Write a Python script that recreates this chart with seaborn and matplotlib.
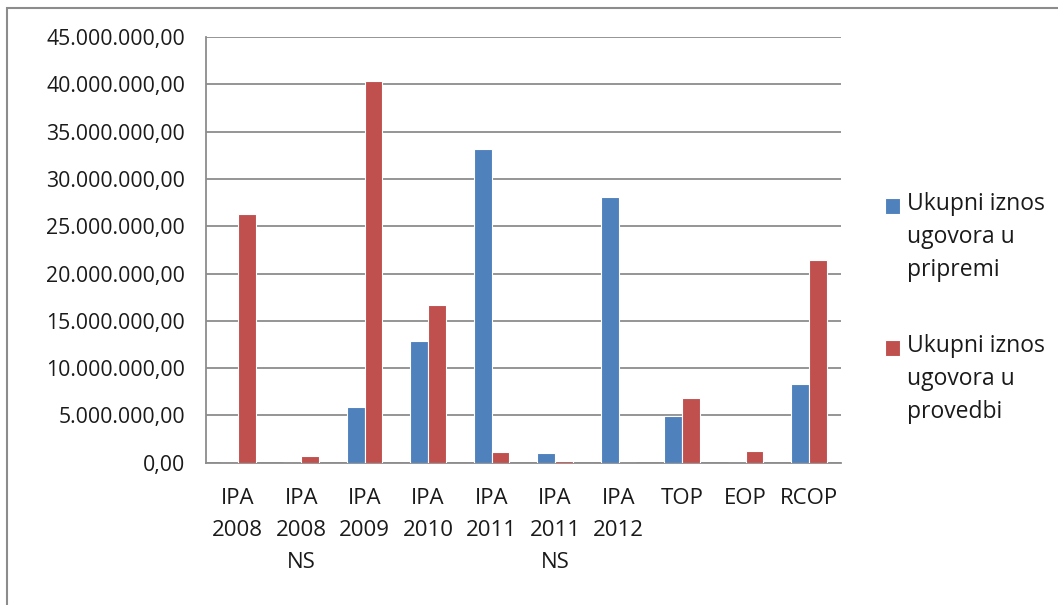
import matplotlib
matplotlib.use('Agg')
import matplotlib.pyplot as plt
import matplotlib.ticker as mticker
from matplotlib.patches import Rectangle
import pandas as pd
import seaborn as sns

categories = ['IPA\n2008', 'IPA\n2008\nNS', 'IPA\n2009', 'IPA\n2010', 'IPA\n2011',
              'IPA\n2011\nNS', 'IPA\n2012', 'TOP', 'EOP', 'RCOP']
u_pripremi = [0, 0, 5850000, 12900000, 33200000, 990000, 28100000, 4970000, 0, 8300000]
u_provedbi = [26300000, 700000, 40300000, 16700000, 1100000, 180000, 0, 6800000, 1240000, 21400000]
series_names = ['Ukupni iznos\nugovora u\npripremi', 'Ukupni iznos\nugovora u\nprovedbi']
y_ticks = list(range(0, 45000001, 5000000))


def fmt_hr(v, pos=None):
    s = f"{v:,.2f}"
    return s.replace(',', 'X').replace('.', ',').replace('X', '.')


def main():
    df = pd.DataFrame({
        'kategorija': categories * 2,
        'iznos': u_pripremi + u_provedbi,
        'serija': [series_names[0]] * len(categories) + [series_names[1]] * len(categories),
    })

    sns.set_style('white')
    plt.rcParams['font.family'] = ['Open Sans', 'DejaVu Sans']

    fig = plt.figure(figsize=(10.58, 6.05), dpi=100)
    ax = fig.add_axes([0.1947, 0.2352, 0.6, 0.7036])

    sns.barplot(data=df, x='kategorija', y='iznos', hue='serija', order=categories,
                hue_order=series_names, palette=['#4F81BD', '#C0504D'], width=0.56,
                linewidth=0.8, edgecolor='white', saturation=1, ax=ax, zorder=3)

    ax.set_ylim(0, 45000000)
    ax.set_xlim(-0.5, len(categories) - 0.5)
    ax.set_yticks(y_ticks)
    ax.yaxis.set_major_formatter(mticker.FuncFormatter(fmt_hr))
    ax.yaxis.grid(True, color='#8C8C8C', linewidth=1.3, zorder=0)
    ax.set_axisbelow(True)
    ax.set_xlabel('')
    ax.set_ylabel('')

    ax.set_xticks([i - 0.5 for i in range(len(categories) + 1)], minor=True)
    ax.tick_params(axis='x', which='major', length=0, pad=18, labelsize=16, colors='#1a1a1a')
    ax.tick_params(axis='x', which='minor', length=6, width=1.2, color='#8C8C8C', direction='out')
    ax.tick_params(axis='y', which='major', length=7, width=1.2, color='#8C8C8C', direction='out',
                   labelsize=15.3, labelcolor='#1a1a1a', pad=8)
    for lbl in ax.get_xticklabels():
        lbl.set_linespacing(1.7)
        lbl.set_verticalalignment('top')

    for side in ['top', 'right']:
        ax.spines[side].set_visible(False)
    for side in ['left', 'bottom']:
        ax.spines[side].set_color('#8C8C8C')
        ax.spines[side].set_linewidth(1.3)

    handles, labels = ax.get_legend_handles_labels()
    leg = ax.legend(handles, labels, loc='upper left', bbox_to_anchor=(0.817, 0.716),
                    bbox_transform=fig.transFigure, frameon=False, fontsize=16.5,
                    handlelength=0.66, handleheight=0.66, handletextpad=0.28,
                    labelspacing=2.3)
    for t in leg.get_texts():
        t.set_linespacing(1.48)
        t.set_color('#1a1a1a')
    # put the square next to the first line of each label
    for h in leg.legend_handles:
        h.set_y(h.get_y() + 23)

    # outer chart frame
    fig.patches.append(Rectangle((7 / 1058, -0.1), 1.2, 1 - 8 / 605 + 0.1, transform=fig.transFigure,
                                 fill=False, edgecolor='#8C8C8C', linewidth=1.5))

    fig.savefig('out.png', dpi=100)


if __name__ == "__main__":
    main()
